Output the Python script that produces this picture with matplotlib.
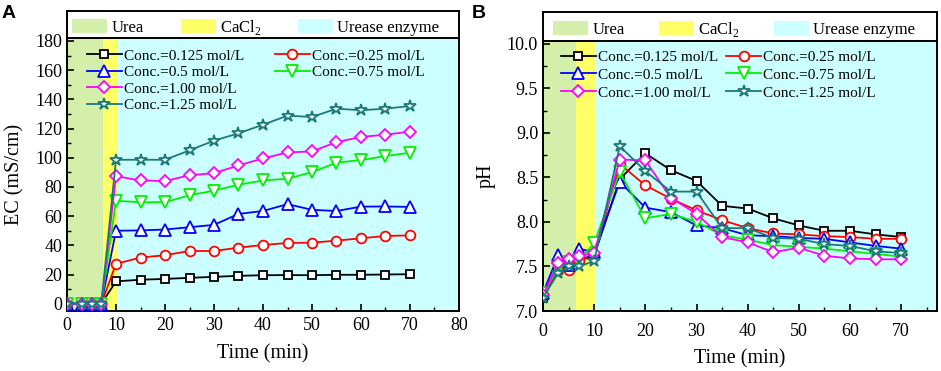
from matplotlib import pyplot as plt
from matplotlib.patches import Patch
from matplotlib.lines import Line2D
from matplotlib.ticker import MultipleLocator

plt.rcParams["font.family"] = "Liberation Serif"
plt.rcParams["mathtext.fontset"] = "custom"
plt.rcParams["mathtext.rm"] = "Liberation Serif"

# sampling times (min)
time = [0, 3, 5, 7, 10, 15, 20, 25, 30, 35, 40, 45, 50, 55, 60, 65, 70]

labels = [
    "Conc.=0.125 mol/L",
    "Conc.=0.25 mol/L",
    "Conc.=0.5 mol/L",
    "Conc.=0.75 mol/L",
    "Conc.=1.00 mol/L",
    "Conc.=1.25 mol/L",
]

# panel A: electrical conductivity (mS/cm)
ec_0125 = [0, 0, 0, 0, 15.3, 16.4, 17.0, 17.7, 18.4, 19.1, 19.5, 19.6, 19.5, 19.8, 19.8, 20.0, 20.2]
ec_025 = [0, 0, 0, 0, 27.3, 31.6, 33.2, 36.1, 36.1, 38.4, 40.2, 41.6, 41.8, 43.2, 44.8, 46.4, 46.8]
ec_05 = [0, 0, 0, 0, 50.0, 50.2, 50.8, 52.4, 54.0, 61.5, 63.5, 68.2, 64.3, 63.5, 66.5, 66.6, 66.3]
ec_075 = [0, 0, 0, 0, 70.5, 69.5, 69.5, 74.3, 77.4, 81.5, 84.4, 85.6, 90.1, 96.6, 98.4, 101.1, 103.4]
ec_100 = [0, 0, 0, 0, 87.4, 84.4, 84.0, 88.0, 89.4, 94.7, 99.5, 103.6, 104.3, 110.7, 114.2, 115.8, 117.8]
ec_125 = [0, 0, 0, 0, 98.6, 98.6, 98.6, 105.0, 111.7, 116.7, 122.6, 128.8, 127.9, 133.6, 132.5, 133.6, 135.4]

# panel B: pH
ph_0125 = [7.15, 7.46, 7.52, 7.58, 7.62, 8.48, 8.77, 8.58, 8.46, 8.18, 8.15, 8.04, 7.96, 7.90, 7.90, 7.86, 7.83]
ph_025 = [7.18, 7.46, 7.46, 7.56, 7.62, 8.65, 8.41, 8.26, 8.13, 8.02, 7.93, 7.87, 7.86, 7.84, 7.83, 7.81, 7.81]
ph_05 = [7.20, 7.63, 7.52, 7.70, 7.66, 8.45, 8.16, 8.11, 7.96, 7.93, 7.85, 7.84, 7.82, 7.81, 7.77, 7.73, 7.70]
ph_075 = [7.20, 7.48, 7.55, 7.57, 7.76, 8.56, 8.04, 8.09, 8.00, 7.85, 7.80, 7.74, 7.72, 7.70, 7.67, 7.64, 7.61]
ph_100 = [7.18, 7.54, 7.58, 7.62, 7.65, 8.70, 8.69, 8.27, 8.09, 7.83, 7.77, 7.66, 7.71, 7.62, 7.59, 7.58, 7.58]
ph_125 = [7.15, 7.43, 7.51, 7.50, 7.56, 8.85, 8.57, 8.34, 8.34, 7.93, 7.93, 7.82, 7.81, 7.75, 7.73, 7.67, 7.65]

colors = ["black", "#ff0000", "#0000ff", "#00f000", "#ff00ff", "#1a7a7a"]
markers = ["s", "o", "^", "v", "D", "*"]
msizes = [6, 7, 8.5, 8.5, 6, 9]

# stage shading: (label, start, end, colour)
stages_a = [("Urea", 0, 7.3, "#d3efaa"), ("CaCl$_\\mathregular{2}$", 7.3, 10.4, "#ffff66"), ("Urease enzyme", 10.4, 80, "#ccffff")]
stages_b = [("Urea", 0, 6.4, "#d3efaa"), ("CaCl$_\\mathregular{2}$", 6.4, 10.2, "#ffff66"), ("Urease enzyme", 10.2, 77, "#ccffff")]


def style_axes(ax, pad):
    for s in ax.spines.values():
        s.set_linewidth(1.4)
    ax.tick_params(which="both", direction="in", labelsize=13, top=False, right=False)
    ax.tick_params(which="major", length=5, width=1.2)
    ax.tick_params(which="minor", length=3, width=1.0)
    ax.tick_params(axis="x", pad=pad)


def draw_header(ax, stages, x0, colspace):
    ax.set_xticks([])
    ax.set_yticks([])
    for s in ax.spines.values():
        s.set_linewidth(1.4)
    handles = [Patch(facecolor=c, edgecolor="none") for _, _, _, c in stages]
    ax.legend(
        handles,
        [lab for lab, _, _, _ in stages],
        ncol=3,
        loc="center left",
        bbox_to_anchor=(x0, 0.4),
        frameon=False,
        fontsize=12,
        handlelength=2.1,
        handleheight=0.9,
        handletextpad=0.25,
        columnspacing=colspace,
        borderaxespad=0,
        borderpad=0,
    )


def draw_panel(ax, series, stages, pad):
    for _, x0, x1, c in stages:
        ax.axvspan(x0, x1, color=c, lw=0, zorder=0)
    lines = []
    for y, c, m, ms, lab in zip(series, colors, markers, msizes, labels):
        (ln,) = ax.plot(
            time, y, color=c, marker=m, markersize=ms, markerfacecolor="white",
            markeredgecolor=c, markeredgewidth=1.3, linewidth=1.3, label=lab, zorder=3,
        )
        lines.append(ln)
    style_axes(ax, pad)
    return lines


fig = plt.figure(figsize=(9.41, 3.71), dpi=100)

# ---- panel A ----
ax_a = fig.add_axes([67 / 941, 60 / 371, 392 / 941, 273 / 371])
hd_a = fig.add_axes([67 / 941, 333 / 371, 392 / 941, 27.3 / 371])
lines_a = draw_panel(ax_a, [ec_0125, ec_025, ec_05, ec_075, ec_100, ec_125], stages_a, 4)
ax_a.set_xlim(0, 80)
ax_a.set_ylim(-5, 182)
ax_a.xaxis.set_major_locator(MultipleLocator(10))
ax_a.xaxis.set_minor_locator(MultipleLocator(5))
ax_a.yaxis.set_major_locator(MultipleLocator(20))
ax_a.yaxis.set_minor_locator(MultipleLocator(10))
ax_a.set_xlabel("Time (min)", fontsize=14.5, labelpad=8)
ax_a.set_ylabel("EC (mS/cm)", fontsize=14.5, labelpad=8)
blank = Line2D([], [], linestyle="none")
ax_a.legend(
    [lines_a[0], lines_a[2], lines_a[4], lines_a[5], lines_a[1], lines_a[3], blank, blank],
    [labels[0], labels[2], labels[4], labels[5], labels[1], labels[3], "", ""],
    ncol=2, loc="upper left", bbox_to_anchor=(0.05, 0.96), frameon=False,
    fontsize=11, handlelength=2.3, handletextpad=0.15, columnspacing=2.0,
    labelspacing=0.18, borderaxespad=0, borderpad=0,
)
draw_header(hd_a, stages_a, 0.014, 2.2)

# ---- panel B ----
ax_b = fig.add_axes([543 / 941, 60 / 371, 394 / 941, 270 / 371])
hd_b = fig.add_axes([543 / 941, 330 / 371, 394 / 941, 29 / 371])
lines_b = draw_panel(ax_b, [ph_0125, ph_025, ph_05, ph_075, ph_100, ph_125], stages_b, 9)
ax_b.set_xlim(0, 77)
ax_b.set_ylim(7.0, 10.03)
ax_b.xaxis.set_major_locator(MultipleLocator(10))
ax_b.xaxis.set_minor_locator(MultipleLocator(5))
ax_b.yaxis.set_major_locator(MultipleLocator(0.5))
ax_b.yaxis.set_minor_locator(MultipleLocator(0.25))
ax_b.yaxis.set_major_formatter("{x:.1f}")
ax_b.set_xlabel("Time (min)", fontsize=14.5, labelpad=6)
ax_b.set_ylabel("pH", fontsize=14.5, labelpad=8)
ax_b.legend(
    [lines_b[0], lines_b[2], lines_b[4], lines_b[1], lines_b[3], lines_b[5]],
    [labels[0], labels[2], labels[4], labels[1], labels[3], labels[5]],
    ncol=2, loc="upper left", bbox_to_anchor=(0.045, 0.966), frameon=False,
    fontsize=11, handlelength=2.3, handletextpad=0.15, columnspacing=0.5,
    labelspacing=0.27, borderaxespad=0, borderpad=0,
)
draw_header(hd_b, stages_b, 0.026, 2.05)

fig.text(2 / 941, 1 - 5 / 371, "A", family="Liberation Sans", weight="bold", fontsize=14, va="top", ha="left")
fig.text(472 / 941, 1 - 5 / 371, "B", family="Liberation Sans", weight="bold", fontsize=14, va="top", ha="left")

fig.savefig("out.png", dpi=100)
